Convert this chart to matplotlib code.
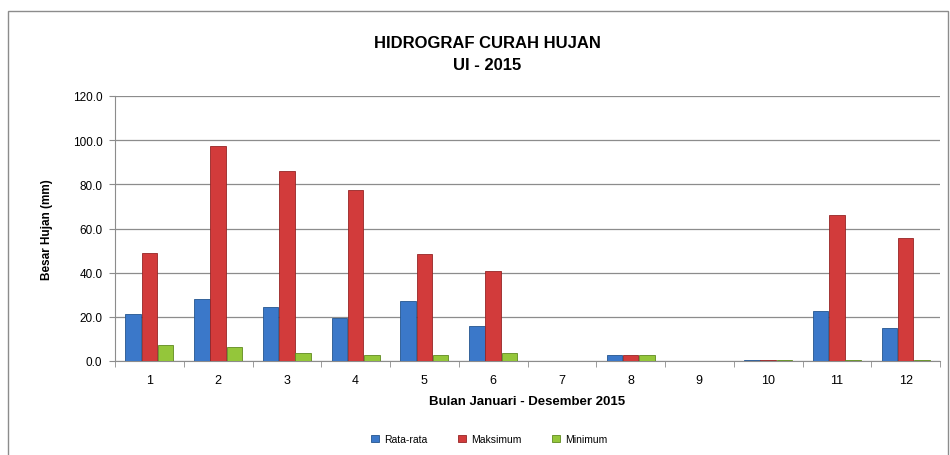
import matplotlib
matplotlib.use("Agg")
import matplotlib.pyplot as plt
import numpy as np
from matplotlib.patches import Rectangle

months = ["1", "2", "3", "4", "5", "6", "7", "8", "9", "10", "11", "12"]
rata_rata = [21.3, 28.0, 24.3, 19.5, 27.3, 16.0, 0.0, 2.9, 0.0, 0.3, 22.5, 14.9]
maksimum = [48.9, 97.4, 86.0, 77.4, 48.5, 40.9, 0.0, 2.9, 0.0, 0.3, 66.1, 55.7]
minimum = [7.2, 6.4, 3.5, 2.7, 2.7, 3.6, 0.0, 2.9, 0.0, 0.3, 0.5, 0.5]
series_names = ["Rata-rata", "Maksimum", "Minimum"]
colors = ["#3b78c9", "#d23b3b", "#94c63a"]
edges = ["#24558f", "#962525", "#5f8a1f"]

plt.rcParams['font.family'] = ['Liberation Sans', 'DejaVu Sans']

fig = plt.figure(figsize=(9.5, 4.56), dpi=100)
# outer chart border
fig.patches.append(Rectangle((0.008, -0.01), 0.99, 0.983, transform=fig.transFigure,
                             fill=False, edgecolor="#8c8c8c", linewidth=1.0))

ax = fig.add_axes([115/950, 1 - 362/456, (940 - 115)/950, (362 - 97)/456])
x = np.arange(len(months))
w = 0.225
for i, (vals, c, ec, name) in enumerate(zip([rata_rata, maksimum, minimum], colors, edges, series_names)):
    ax.bar(x + (i - 1) * (w + 0.01), vals, width=w, color=c, edgecolor=ec, linewidth=0.6,
           label=name, zorder=3)

ax.set_xlim(-0.5, len(months) - 0.5)
ax.set_ylim(0, 120)
ax.set_yticks(np.arange(0, 121, 20))
ax.set_yticklabels([f"{v:.1f}" for v in np.arange(0, 121, 20)], fontsize=8.5)
ax.set_xticks(x)
ax.set_xticklabels(months, fontsize=9)
ax.set_xticks(np.arange(-0.5, len(months)), minor=True)
ax.tick_params(axis='x', which='major', length=0, pad=9)
ax.tick_params(axis='x', which='minor', length=4, color="#8c8c8c")
ax.tick_params(axis='y', length=4, color="#8c8c8c", pad=5)
ax.grid(axis='y', color="#8c8c8c", linewidth=0.9, zorder=0)
for s in ["top", "right"]:
    ax.spines[s].set_visible(False)
ax.spines["left"].set_color("#8c8c8c")
ax.spines["bottom"].set_color("#8c8c8c")

ax.set_ylabel("Besar Hujan (mm)", fontsize=8.5, fontweight="bold", labelpad=14)
ax.set_xlabel("Bulan Januari - Desember 2015", fontsize=9.5, fontweight="bold", labelpad=7)
fig.text(0.513, 1 - 44/456, "HIDROGRAF CURAH HUJAN", ha="center", va="center",
         fontsize=12, fontweight="bold")
fig.text(0.513, 1 - 66/456, "UI - 2015", ha="center", va="center",
         fontsize=12, fontweight="bold")

leg = fig.legend(loc="center", bbox_to_anchor=(0.515, 1 - 440/456), ncol=3, frameon=False,
                 fontsize=7.5, handlelength=0.7, handleheight=0.7, columnspacing=3.0,
                 handletextpad=0.5)

fig.savefig("out.png", dpi=100)
